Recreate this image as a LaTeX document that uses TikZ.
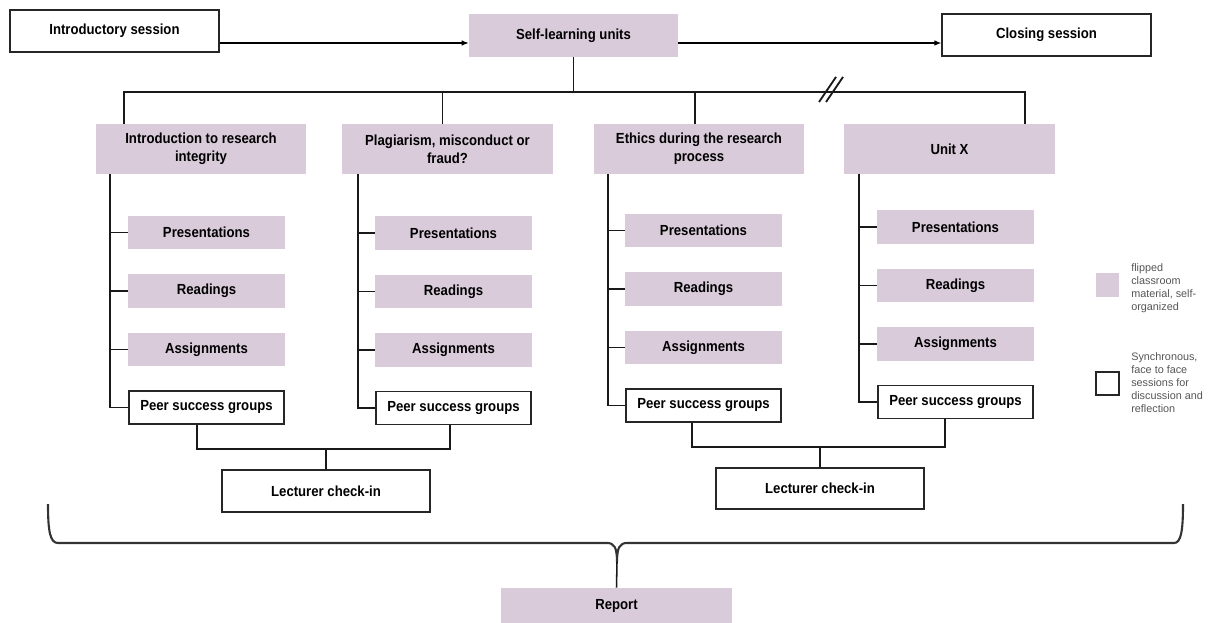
\documentclass[tikz,border=0pt]{standalone}
\usepackage{fontspec}
\setmainfont{Liberation Sans}
\newfontfamily\narrowsans{Liberation Sans}[FakeStretch=0.9]
\usetikzlibrary{arrows.meta}
\definecolor{lilac}{RGB}{217,203,218}
\definecolor{keygray}{RGB}{85,85,85}

\begin{document}
\begin{tikzpicture}[x=0.025cm,y=-0.025cm,
  boxfont/.style={font=\narrowsans\bfseries\fontsize{10.4}{12.8}\selectfont},
  pinkbox/.style={boxfont,fill=lilac,align=center,inner sep=0pt},
  whitebox/.style={boxfont,draw=black!85,line width=0.9pt,fill=white,align=center,inner sep=0pt},
  unitbox/.style={pinkbox,minimum width=5.25cm,minimum height=1.25cm},
  subbox/.style={pinkbox,minimum width=3.925cm,minimum height=0.825cm},
  peerbox/.style={whitebox,minimum width=3.875cm,minimum height=0.825cm},
  link/.style={line width=1.1pt,black!90},
  keytext/.style={anchor=west,align=left,inner sep=0pt,text=keygray,font=\fontsize{7.7}{9.2}\selectfont}]
\useasboundingbox (0,0) rectangle (1208,623);

% top row
\node[whitebox,minimum width=5.225cm,minimum height=1.05cm] (intro) at (114.5,31) {Introductory session};
\node[pinkbox,minimum width=5.225cm,minimum height=1.075cm] (self) at (573.5,35.5) {Self-learning units};
\node[whitebox,minimum width=5.225cm,minimum height=1.05cm] (closing) at (1046.5,35) {Closing session};
\coordinate (arrowrow) at (0,43);
\draw[line width=0.8pt,-{Latex[length=5pt,width=4pt]}] (intro.east |- arrowrow) -- (self.west |- arrowrow);
\draw[line width=0.8pt,-{Latex[length=5pt,width=4pt]}] (self.east |- arrowrow) -- (closing.west |- arrowrow);

% units
\node[unitbox] (u1) at (201,149) {Introduction to research\\integrity};
\node[unitbox] (u2) at (447.5,149) {Plagiarism, misconduct or\\fraud?};
\node[unitbox] (u3) at (699,149) {Ethics during the research\\process};
\node[unitbox] (u4) at (949.5,149) {Unit X};

\coordinate (bus) at (573.5,92);
\draw[link] (self.south) -- (bus);
\draw[link] ([xshift=-1.925cm]u1.north) |- (bus) -| ([xshift=1.89cm]u4.north);
\draw[link] ([xshift=-0.125cm]u2.north) -- ([xshift=-0.125cm]u2.north |- bus);
\draw[link] ([xshift=-0.1cm]u3.north) -- ([xshift=-0.1cm]u3.north |- bus);
\draw[link,line width=1.3pt] (819,102) -- (836,77);
\draw[link,line width=1.3pt] (826,102) -- (843,77);

% material of each unit
\foreach \c/\sx/\dy/\stem in {1/206.5/0/110, 2/453.5/0.5/358, 3/703.5/-2/608, 4/955.5/-5.5/859} {
  \node[subbox] (pres\c) at (\sx,232.5+\dy) {Presentations};
  \node[subbox] (read\c) at (\sx,291+\dy) {Readings};
  \node[subbox] (asg\c) at (\sx,349.5+\dy) {Assignments};
  \node[peerbox] (peer\c) at (\sx,407.5+\dy) {Peer success groups};
  \coordinate (stem\c) at (\stem,174);
  \draw[link] (stem\c) |- (peer\c.west);
  \draw[link] (pres\c.west -| stem\c) -- (pres\c.west);
  \draw[link] (read\c.west -| stem\c) -- (read\c.west);
  \draw[link] (asg\c.west -| stem\c) -- (asg\c.west);
}

% check-ins
\node[whitebox,minimum width=5.2cm,minimum height=1.05cm] (lect1) at (326,491) {Lecturer check-in};
\node[whitebox,minimum width=5.2cm,minimum height=1.025cm] (lect2) at (820,488.5) {Lecturer check-in};
\coordinate (join1) at (326,449);
\coordinate (join2) at (820,447);
\draw[link] ([xshift=-0.24cm]peer1.south) |- (join1) -| ([xshift=-0.09cm]peer2.south);
\draw[link] (join1) -- (lect1.north);
\draw[link] ([xshift=-0.29cm]peer3.south) |- (join2) -| ([xshift=-0.26cm]peer4.south);
\draw[link] (join2) -- (lect2.north);

% report
\node[pinkbox,minimum width=5.775cm,minimum height=0.875cm] (report) at (616.5,605.5) {Report};
\coordinate (tip) at (617,562);
\draw[line width=1.5pt,black!80] (48,504) .. controls (48,531) and (50,543) .. (58,543) -- (607,543)
  .. controls (614,543) and (617,547) .. (tip) .. controls (617,547) and (620,543) .. (627,543)
  -- (1174,543) .. controls (1181,543) and (1183,531) .. (1183,504);
\draw[link] (tip) -- (report.north);

% key
\node[fill=lilac,minimum size=0.575cm,inner sep=0pt] (keypink) at (1107.5,285) {};
\node[keytext] (keypinktext) at (1131,288) {flipped\\classroom\\material, self-\\organized};
\node[draw=black!85,line width=0.9pt,minimum size=0.575cm,inner sep=0pt] (keywhite) at (1107.5,383.5) {};
\node[keytext] (keywhitetext) at (1131,383) {Synchronous,\\face to face\\sessions for\\discussion and\\reflection};
\end{tikzpicture}
\end{document}
